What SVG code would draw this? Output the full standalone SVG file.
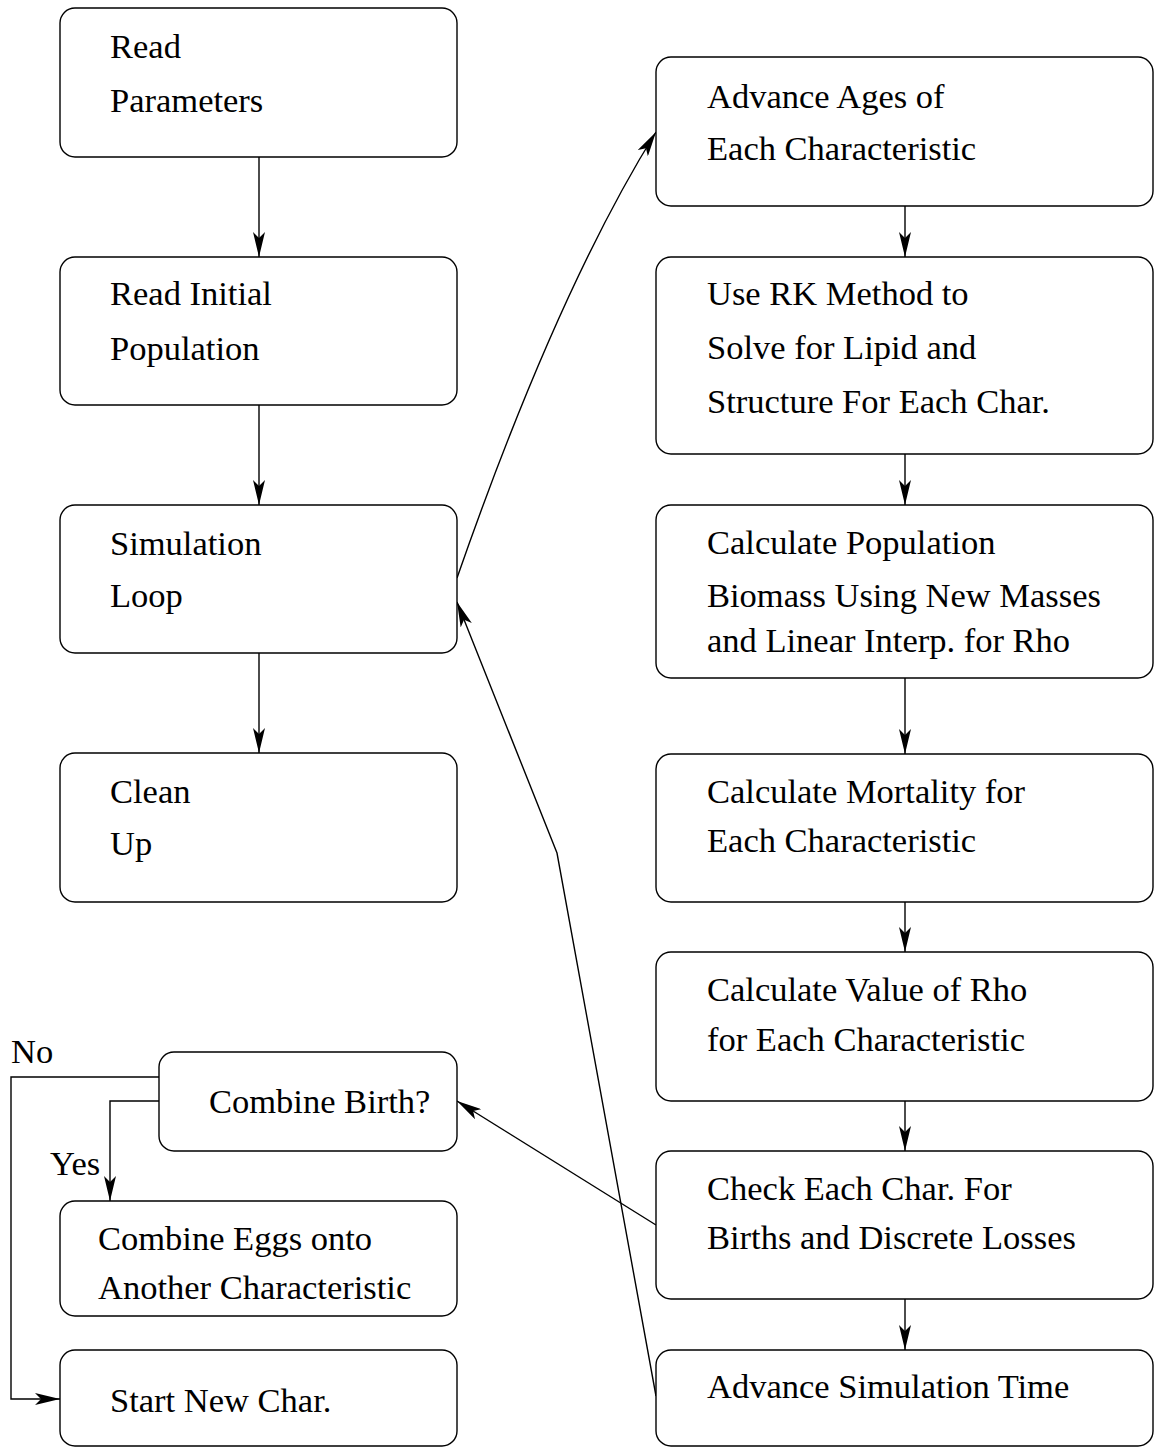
<svg xmlns="http://www.w3.org/2000/svg" width="1154" height="1447" viewBox="0 0 1154 1447">
<style>
.box{fill:#fff;stroke:#000;stroke-width:1.4}
.t{font-family:"Liberation Serif","Times New Roman",serif;font-size:34.5px;fill:#000}
.c{fill:none;stroke:#000;stroke-width:1.4}
.a{marker-end:url(#ah)}
</style>
<defs>
<marker id="ah" markerUnits="userSpaceOnUse" viewBox="0 0 25 12" refX="25" refY="6" markerWidth="25" markerHeight="12" orient="auto">
<path d="M0,0 L25,6 L0,12 L6,6 Z" fill="#000"/>
</marker>
</defs>
<rect width="1154" height="1447" fill="#fff"/>
<g id="connectors">
<path class="c a" d="M259,157 V257"/>
<path class="c a" d="M259,405 V505"/>
<path class="c a" d="M259,653 V753"/>
<path class="c a" d="M905,206 V257"/>
<path class="c a" d="M905,454 V505"/>
<path class="c a" d="M905,678 V754"/>
<path class="c a" d="M905,902 V952"/>
<path class="c a" d="M905,1101 V1151"/>
<path class="c a" d="M905,1299 V1350"/>
<path class="c a" d="M457,578 Q557,291 656,132"/>
<path class="c a" d="M656,1396 L557,853 L457,602"/>
<path class="c a" d="M656,1225 L457,1101"/>
<path class="c a" d="M159,1077 H11 V1399 H60"/>
<path class="c a" d="M159,1101 H110 V1201"/>
<text class="t" x="11" y="1063">No</text>
<text class="t" x="50" y="1175">Yes</text>
</g>
<g id="read-parameters">
<rect class="box" x="60" y="8" width="397" height="149" rx="15"/>
<text class="t" x="110" y="58">Read</text>
<text class="t" x="110" y="112">Parameters</text>
</g>
<g id="read-initial-population">
<rect class="box" x="60" y="257" width="397" height="148" rx="15"/>
<text class="t" x="110" y="305">Read Initial</text>
<text class="t" x="110" y="360">Population</text>
</g>
<g id="simulation-loop">
<rect class="box" x="60" y="505" width="397" height="148" rx="15"/>
<text class="t" x="110" y="555">Simulation</text>
<text class="t" x="110" y="607">Loop</text>
</g>
<g id="clean-up">
<rect class="box" x="60" y="753" width="397" height="149" rx="15"/>
<text class="t" x="110" y="803">Clean</text>
<text class="t" x="110" y="855">Up</text>
</g>
<g id="combine-birth">
<rect class="box" x="159" y="1052" width="298" height="99" rx="15"/>
<text class="t" x="209" y="1113">Combine Birth?</text>
</g>
<g id="combine-eggs">
<rect class="box" x="60" y="1201" width="397" height="115" rx="15"/>
<text class="t" x="98" y="1250">Combine Eggs onto</text>
<text class="t" x="98" y="1299">Another Characteristic</text>
</g>
<g id="start-new-char">
<rect class="box" x="60" y="1350" width="397" height="96" rx="15"/>
<text class="t" x="110" y="1412">Start New Char.</text>
</g>
<g id="advance-ages">
<rect class="box" x="656" y="57" width="497" height="149" rx="15"/>
<text class="t" x="707" y="108">Advance Ages of</text>
<text class="t" x="707" y="160">Each Characteristic</text>
</g>
<g id="use-rk">
<rect class="box" x="656" y="257" width="497" height="197" rx="15"/>
<text class="t" x="707" y="305">Use RK Method to</text>
<text class="t" x="707" y="359">Solve for Lipid and</text>
<text class="t" x="707" y="413">Structure For Each Char.</text>
</g>
<g id="calculate-population">
<rect class="box" x="656" y="505" width="497" height="173" rx="15"/>
<text class="t" x="707" y="554">Calculate Population</text>
<text class="t" x="707" y="607">Biomass Using New Masses</text>
<text class="t" x="707" y="652">and Linear Interp. for Rho</text>
</g>
<g id="calculate-mortality">
<rect class="box" x="656" y="754" width="497" height="148" rx="15"/>
<text class="t" x="707" y="803">Calculate Mortality for</text>
<text class="t" x="707" y="852">Each Characteristic</text>
</g>
<g id="calculate-rho">
<rect class="box" x="656" y="952" width="497" height="149" rx="15"/>
<text class="t" x="707" y="1001">Calculate Value of Rho</text>
<text class="t" x="707" y="1051">for Each Characteristic</text>
</g>
<g id="check-each">
<rect class="box" x="656" y="1151" width="497" height="148" rx="15"/>
<text class="t" x="707" y="1200">Check Each Char. For</text>
<text class="t" x="707" y="1249">Births and Discrete Losses</text>
</g>
<g id="advance-time">
<rect class="box" x="656" y="1350" width="497" height="96" rx="15"/>
<text class="t" x="707" y="1398">Advance Simulation Time</text>
</g>
</svg>
